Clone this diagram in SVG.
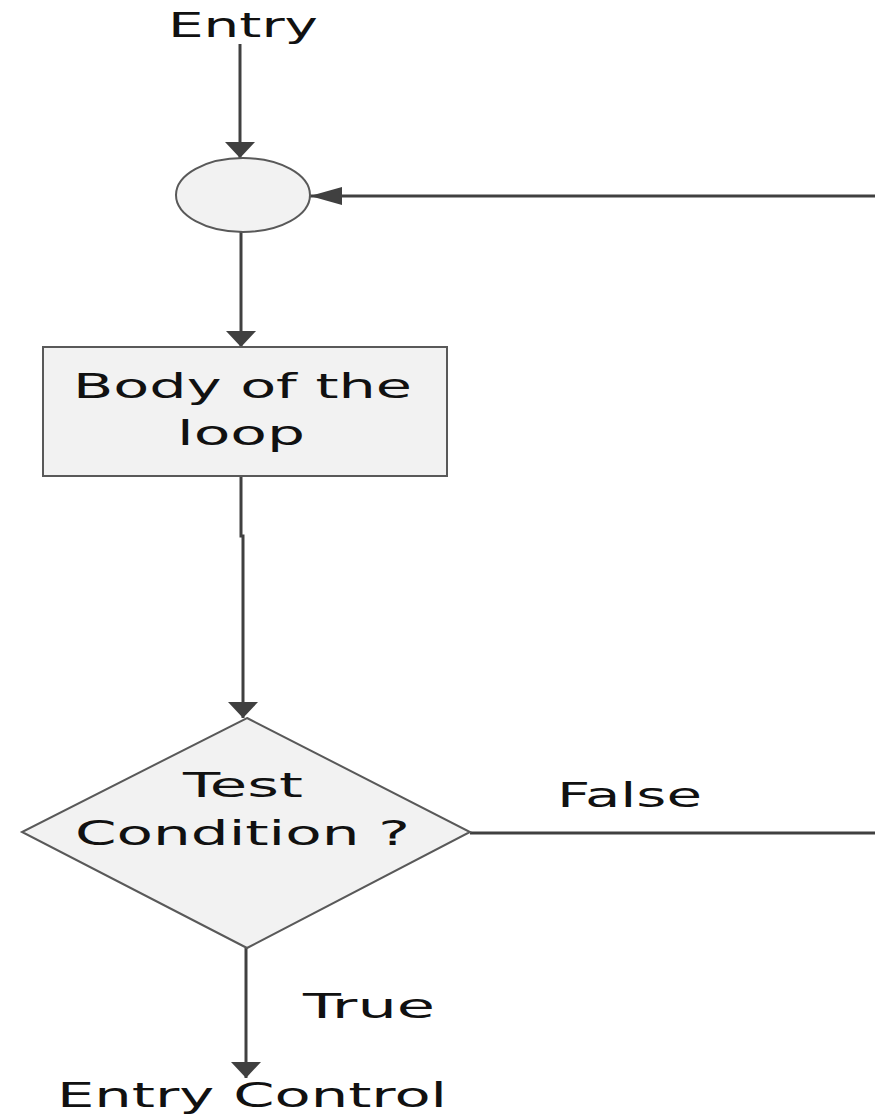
<svg xmlns="http://www.w3.org/2000/svg" width="875" height="1115" viewBox="0 0 875 1115">
<style>
.shape{fill:#f2f2f2;stroke:#595959;stroke-width:2}
.conn{fill:none;stroke:#404040;stroke-width:3}
.t{font-family:"DejaVu Sans",Verdana,sans-serif;font-size:33px;fill:#111}
</style>
<defs>
<marker id="av" markerUnits="userSpaceOnUse" viewBox="0 0 16 30" markerWidth="16" markerHeight="30" refX="16" refY="15" orient="auto">
<path d="M0,0 L16,15 L0,30 z" fill="#404040"/>
</marker>
<marker id="ah" markerUnits="userSpaceOnUse" viewBox="0 0 32 18" markerWidth="32" markerHeight="18" refX="32" refY="9" orient="auto">
<path d="M0,0 L32,9 L0,18 z" fill="#404040"/>
</marker>
</defs>
<rect width="875" height="1115" fill="#fff"/>
<g id="connectors">
<path class="conn" d="M240,44 V158" marker-end="url(#av)"/>
<path class="conn" d="M241,232 V347" marker-end="url(#av)"/>
<path class="conn" d="M241,476 V536 H243 V718" marker-end="url(#av)"/>
<path class="conn" d="M246,948 V1078" marker-end="url(#av)"/>
<path class="conn" d="M470,833 H880 V196 H310" marker-end="url(#ah)"/>
</g>
<g id="entry-label"><text class="t" x="168" y="37" textLength="150" lengthAdjust="spacingAndGlyphs">Entry</text></g>
<g id="junction"><ellipse class="shape" cx="243" cy="195" rx="67" ry="37"/></g>
<g id="body">
<rect class="shape" x="43" y="347" width="404" height="129"/>
<text class="t" x="73" y="398" textLength="339" lengthAdjust="spacingAndGlyphs">Body of the</text>
<text class="t" x="177" y="445" textLength="128" lengthAdjust="spacingAndGlyphs">loop</text>
</g>
<g id="test">
<polygon class="shape" points="247,718 470,832 247,948 22,832"/>
<text class="t" x="183" y="797" textLength="120" lengthAdjust="spacingAndGlyphs">Test</text>
<text class="t" x="75" y="845" textLength="335" lengthAdjust="spacingAndGlyphs">Condition ?</text>
</g>
<g id="false-label"><text class="t" x="557" y="807" textLength="145" lengthAdjust="spacingAndGlyphs">False</text></g>
<g id="true-label"><text class="t" x="303" y="1018" textLength="132" lengthAdjust="spacingAndGlyphs">True</text></g>
<g id="exit-label"><text class="t" x="57" y="1107" textLength="390" lengthAdjust="spacingAndGlyphs">Entry Control</text></g>
</svg>
